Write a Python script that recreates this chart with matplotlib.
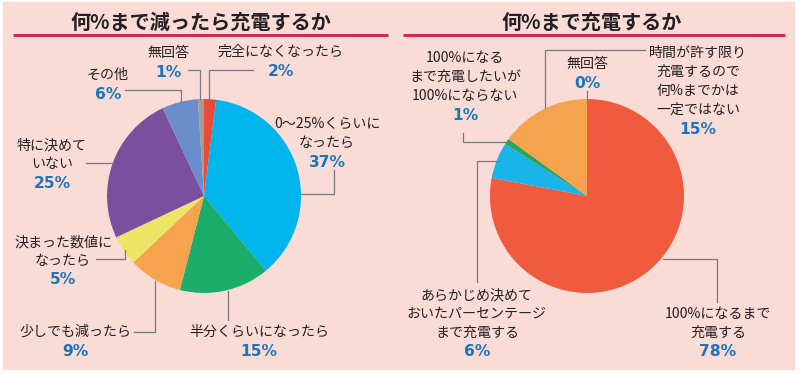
"""
Two pie charts: battery charging habits survey.
Outputs out.png (800x374).
"""
import matplotlib
matplotlib.use("Agg")
import matplotlib.pyplot as plt
from matplotlib.patches import Rectangle

W, H = 800, 374
JP = ["Noto Sans CJK JP", "DejaVu Sans"]

BG_PINK   = "#fadcd7"
RULE_RED  = "#d7194f"
TXT_COLOR = "#231f20"
PCT_COLOR = "#1b75bb"
LEADER    = "#7a7a7a"

# ---- left: 何%まで減ったら充電するか ----
LEFT_TITLE  = "何%まで減ったら充電するか"
LEFT_LABELS = ["完全になくなったら", "0〜25%くらいに\nなったら", "半分くらいになったら",
               "少しでも減ったら", "決まった数値に\nなったら", "特に決めて\nいない",
               "その他", "無回答"]
LEFT_VALUES = [2, 37, 15, 9, 5, 25, 6, 1]
LEFT_COLORS = ["#e94b3c", "#00b5ec", "#1bae6b", "#f7a24c", "#ebe666", "#7a4f9e",
               "#6b8dc9", "#a39d92"]

# ---- right: 何%まで充電するか ----
RIGHT_TITLE  = "何%まで充電するか"
RIGHT_LABELS = ["100%になるまで\n充電する", "あらかじめ決めて\nおいたパーセンテージ\nまで充電する",
                "100%になる\nまで充電したいが\n100%にならない",
                "時間が許す限り\n充電するので\n何%までかは\n一定ではない", "無回答"]
RIGHT_VALUES = [78, 6, 1, 15, 0]
RIGHT_COLORS = ["#f05a3f", "#19b4ea", "#25a75c", "#f6a34e", "#a39d92"]

# layout (pixel coords from top-left): label anchor (x, first line y), leader polyline
LEFT_LAYOUT = [
    ((281, 52),  [(209, 100), (209, 70), (253, 70)]),
    ((327, 124), [(334, 170), (334, 194), (301, 194)]),
    ((259, 332), [(228, 291), (228, 320)]),
    ((75, 332),  [(134, 332), (155, 332), (155, 281)]),
    ((63, 242),  [(96, 259), (125, 259), (125, 250)]),
    ((52, 145),  [(86, 163), (113, 163)]),
    ((108, 75),  [(125, 90), (181, 90), (181, 102)]),
    ((168, 53),  [(200, 100), (200, 70), (188, 70)]),
]
RIGHT_LAYOUT = [
    ((718, 314), [(663, 259), (717, 259), (717, 302)]),
    ((477, 295), [(477, 282), (477, 161), (497, 161)]),
    ((465, 58),  [(463, 133), (463, 142), (507, 142)]),
    ((698, 53),  [(645, 50), (545, 50), (545, 108)]),
    ((587, 64),  [(587, 91), (587, 100)]),
]


def Y(y):
    return H - y


def draw_panel(ax, title, title_x, rule, center, labels, values, colors, layout):
    ax.text(title_x, Y(22), title, ha="center", va="center", fontsize=14.5,
            fontweight="bold", family=JP, color=TXT_COLOR)
    ax.plot(rule, [Y(35), Y(35)], color=RULE_RED, lw=2, solid_capstyle="butt")

    ax.pie(values, colors=colors, startangle=90, counterclock=False,
           center=(center[0], Y(center[1])), radius=97,
           wedgeprops=dict(linewidth=0))

    ls = 19
    for lab, val, ((x, y0), pts) in zip(labels, values, layout):
        xs = [p[0] for p in pts]
        ys = [Y(p[1]) for p in pts]
        ax.plot(xs, ys, color=LEADER, lw=0.9)
        lines = lab.split("\n")
        for i, line in enumerate(lines):
            ax.text(x, Y(y0 + i * ls), line, ha="center", va="center",
                    fontsize=10.1, family=JP, color=TXT_COLOR)
        ax.text(x, Y(y0 + len(lines) * ls), f"{val}%", ha="center", va="center",
                fontsize=11.2, fontweight="bold", family="DejaVu Sans",
                color=PCT_COLOR)


fig = plt.figure(figsize=(W / 100, H / 100), dpi=100)
ax = fig.add_axes([0, 0, 1, 1])
ax.add_patch(Rectangle((3, Y(369)), 791, 367, color=BG_PINK, zorder=0))

draw_panel(ax, LEFT_TITLE, 201, [13, 388], (204, 196),
           LEFT_LABELS, LEFT_VALUES, LEFT_COLORS, LEFT_LAYOUT)
draw_panel(ax, RIGHT_TITLE, 592, [403, 785], (587, 196),
           RIGHT_LABELS, RIGHT_VALUES, RIGHT_COLORS, RIGHT_LAYOUT)

ax.set_xlim(0, W)
ax.set_ylim(0, H)
ax.set_aspect("auto")
ax.axis("off")

fig.savefig("out.png", dpi=100, facecolor="white")
